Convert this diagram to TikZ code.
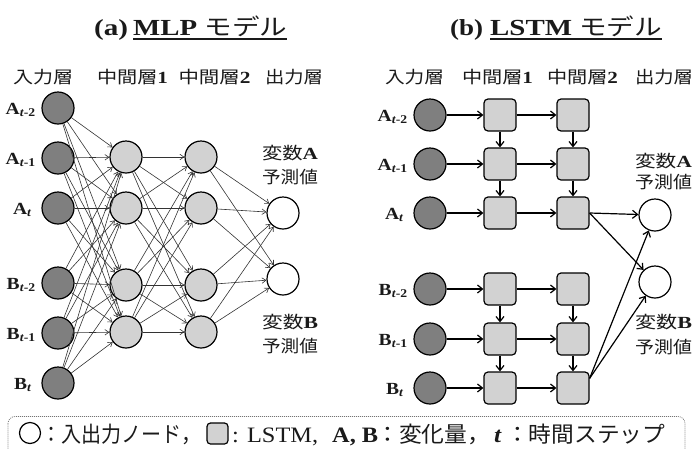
\documentclass[tikz,border=0pt]{standalone}
\usepackage{graphicx}
\usepackage{fontspec}
\setmainfont{Liberation Serif}[FakeStretch=1.15]
\newfontfamily\jp{Noto Sans CJK JP}[FakeStretch=1.1]
\usetikzlibrary{arrows.meta}
\definecolor{indark}{HTML}{7F7F7F}
\definecolor{hidlight}{HTML}{D2D2D2}
\definecolor{txt}{HTML}{1A1A1A}
\newcommand{\fitw}[2]{\resizebox{#1}{\height}{#2}}
\begin{document}
\begin{tikzpicture}[x=1pt,y=-1pt,
  incirc/.style={circle,draw=black,line width=1.2pt,fill=indark,minimum size=32pt,inner sep=0pt},
  hidcirc/.style={circle,draw=black,line width=1.2pt,fill=hidlight,minimum size=32pt,inner sep=0pt},
  outcirc/.style={circle,draw=black,line width=1.2pt,fill=white,minimum size=32pt,inner sep=0pt},
  lstmbox/.style={rectangle,rounded corners=4pt,draw=black,line width=1.2pt,fill=hidlight,minimum size=32pt,inner sep=0pt},
  mlpedge/.style={draw=black!80,line width=0.6pt,-{Straight Barb[length=4pt,width=5.5pt]}},
  lstmedge/.style={draw=black,line width=1.2pt,-{Straight Barb[length=5pt,width=8pt]}},
  lbl/.style={anchor=base east,inner sep=0pt,text=txt,font=\fontsize{17}{19}\selectfont\bfseries},
  hdr/.style={inner sep=0pt,text=txt,font=\jp\fontsize{17}{20}\selectfont},
  outlbl/.style={inner sep=0pt,text=txt,font=\jp\fontsize{17}{20}\selectfont},
  ttl/.style={inner sep=0pt,text=txt,font=\fontsize{23}{26}\selectfont\bfseries},
  lgd/.style={inner sep=0pt,text=txt,font=\fontsize{22}{24}\selectfont}]
\useasboundingbox (0,0) rectangle (698,448);

% ---------- titles ----------
\node[ttl,anchor=base west] (ta1) at (94,35) {\fitw{34pt}{(a)}};
\node[ttl,anchor=base west] (ta2) at (133,35) {\fitw{154pt}{MLP {\jp\mdseries モデル}}};
\draw[line width=1.3pt,txt] ([yshift=-4pt]ta2.base west) -- ([yshift=-4pt]ta2.base east);
\node[ttl,anchor=base west] (tb1) at (450,35) {\fitw{33pt}{(b)}};
\node[ttl,anchor=base west] (tb2) at (490,35) {\fitw{172pt}{LSTM {\jp\mdseries モデル}}};
\draw[line width=1.3pt,txt] ([yshift=-4pt]tb2.base west) -- ([yshift=-4pt]tb2.base east);

% ---------- headers ----------
\node[hdr] (ha1) at (43,77) {\fitw{60pt}{入力層}};
\node[hdr] (ha2) at (132.5,77) {\fitw{71pt}{中間層{\rmfamily\bfseries 1}}};
\node[hdr] (ha3) at (214.5,77) {\fitw{72pt}{中間層{\rmfamily\bfseries 2}}};
\node[hdr] (ha4) at (294,77) {\fitw{58pt}{出力層}};
\node[hdr] (hb1) at (414.5,77) {\fitw{59pt}{入力層}};
\node[hdr] (hb2) at (497.5,77) {\fitw{71pt}{中間層{\rmfamily\bfseries 1}}};
\node[hdr] (hb3) at (582.5,77) {\fitw{71pt}{中間層{\rmfamily\bfseries 2}}};
\node[hdr] (hb4) at (664,77) {\fitw{58pt}{出力層}};

% ---------- MLP nodes ----------
\node[incirc] (mi1) at (58,108) {};
\node[incirc] (mi2) at (58,158) {};
\node[incirc] (mi3) at (58,208) {};
\node[incirc] (mi4) at (58,283) {};
\node[incirc] (mi5) at (58,333) {};
\node[incirc] (mi6) at (58,383) {};
\node[hidcirc] (mh1) at (126,157) {};
\node[hidcirc] (mh2) at (126,208) {};
\node[hidcirc] (mh3) at (126,285) {};
\node[hidcirc] (mh4) at (126,332) {};
\node[hidcirc] (mk1) at (201,157) {};
\node[hidcirc] (mk2) at (201,208) {};
\node[hidcirc] (mk3) at (201,285) {};
\node[hidcirc] (mk4) at (201,332) {};
\node[outcirc] (mo1) at (283,213) {};
\node[outcirc] (mo2) at (283,279) {};

\foreach \i in {1,...,6}{\foreach \j in {1,...,4}{\draw[mlpedge] (mi\i) -- (mh\j);}}
\foreach \i in {1,...,4}{\foreach \j in {1,...,4}{\draw[mlpedge] (mh\i) -- (mk\j);}}
\foreach \i in {1,...,4}{\foreach \j in {1,2}{\draw[mlpedge] (mk\i) -- (mo\j);}}

% MLP labels
\node[lbl] (la1) at (36,114) {A\textsubscript{\textit{t}-2}};
\node[lbl] (la2) at (36,164) {A\textsubscript{\textit{t}-1}};
\node[lbl] (la3) at (32,214) {A\textsubscript{\textit{t}}};
\node[lbl] (la4) at (36,289) {B\textsubscript{\textit{t}-2}};
\node[lbl] (la5) at (36,339) {B\textsubscript{\textit{t}-1}};
\node[lbl] (la6) at (32,389) {B\textsubscript{\textit{t}}};

\node[outlbl] (mva) at (290,153) {\fitw{56pt}{変数{\rmfamily\bfseries A}}};
\node[outlbl] (mpa) at (290,177) {\fitw{56pt}{予測値}};
\node[outlbl] (mvb) at (290,322) {\fitw{56pt}{変数{\rmfamily\bfseries B}}};
\node[outlbl] (mpb) at (290,346) {\fitw{56pt}{予測値}};

% ---------- LSTM nodes ----------
\node[incirc] (li1) at (430,115) {};
\node[incirc] (li2) at (430,164) {};
\node[incirc] (li3) at (430,213) {};
\node[incirc] (li4) at (430,289) {};
\node[incirc] (li5) at (430,339) {};
\node[incirc] (li6) at (430,388) {};
\foreach \r/\y in {1/115,2/164,3/213,4/289,5/339,6/388}{
  \node[lstmbox] (lp\r) at (500,\y) {};
  \node[lstmbox] (lq\r) at (573,\y) {};
}
\node[outcirc] (lo1) at (655,215) {};
\node[outcirc] (lo2) at (655,282) {};

\foreach \r in {1,...,6}{
  \draw[lstmedge] (li\r) -- (lp\r);
  \draw[lstmedge] (lp\r) -- (lq\r);
}
\foreach \r/\s in {1/2,2/3,4/5,5/6}{
  \draw[lstmedge] (lp\r) -- (lp\s);
  \draw[lstmedge] (lq\r) -- (lq\s);
}
\draw[lstmedge] (lq3.east) -- (lo1);
\draw[lstmedge] (lq3.east) -- (lo2);
\draw[lstmedge] (lq6.30) -- (lo1);
\draw[lstmedge] (lq6.30) -- (lo2);

% LSTM labels
\node[lbl] (lb1) at (408,121) {A\textsubscript{\textit{t}-2}};
\node[lbl] (lb2) at (408,170) {A\textsubscript{\textit{t}-1}};
\node[lbl] (lb3) at (404,219) {A\textsubscript{\textit{t}}};
\node[lbl] (lb4) at (408,295) {B\textsubscript{\textit{t}-2}};
\node[lbl] (lb5) at (408,345) {B\textsubscript{\textit{t}-1}};
\node[lbl] (lb6) at (404,394) {B\textsubscript{\textit{t}}};

\node[outlbl] (lva) at (663.5,161) {\fitw{57pt}{変数{\rmfamily\bfseries A}}};
\node[outlbl] (lpa) at (663.5,182) {\fitw{57pt}{予測値}};
\node[outlbl] (lvb) at (663.5,322) {\fitw{57pt}{変数{\rmfamily\bfseries B}}};
\node[outlbl] (lpb) at (663.5,347) {\fitw{57pt}{予測値}};

% ---------- legend ----------
\draw[black!55,line width=0.7pt,dash pattern=on 1pt off 1pt,rounded corners=7pt] (8,416.5) rectangle (685,475);
\node[circle,draw=black,line width=1.2pt,fill=white,minimum size=21pt,inner sep=0pt] (lgc) at (30,433) {};
\node[lgd,anchor=base west] (lgt1) at (41,442) {\fitw{160pt}{\jp ：入出力ノード，}};
\node[rectangle,rounded corners=3.5pt,draw=black,line width=1.2pt,fill=hidlight,minimum size=21pt,inner sep=0pt] (lgs) at (217.5,433.5) {};
\node[lgd,anchor=base west] (lgt2) at (232,442) {\fitw{86pt}{: LSTM,}};
\node[lgd,anchor=base west] (lgt3) at (332,442) {\fitw{46pt}{\bfseries A, B}};
\node[lgd,anchor=base west] (lgt4) at (376,442) {\fitw{114pt}{\jp ：変化量，}};
\node[lgd,anchor=base west] (lgt5) at (494,442) {\bfseries\itshape t};
\node[lgd,anchor=base west] (lgt6) at (506,442) {\fitw{159pt}{\jp ：時間ステップ}};
\end{tikzpicture}
\end{document}
